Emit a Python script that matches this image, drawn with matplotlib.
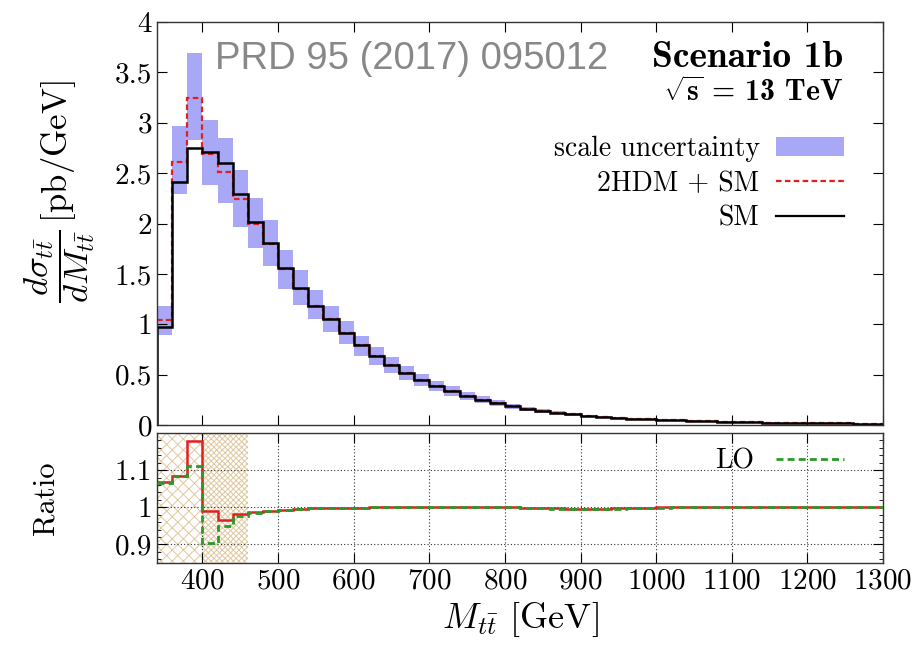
import numpy as np
import matplotlib
matplotlib.use("Agg")
import matplotlib.pyplot as plt
from matplotlib.patches import Patch
from matplotlib.lines import Line2D
from matplotlib.ticker import MultipleLocator

plt.rcParams['font.family'] = 'serif'
plt.rcParams['font.serif'] = ['cmr10']
plt.rcParams['mathtext.fontset'] = 'cm'
plt.rcParams['axes.formatter.use_mathtext'] = True
plt.rcParams['hatch.linewidth'] = 0.7

# bin edges in GeV (20 GeV bins)
edges = np.arange(340, 1320, 20)

sm = [0.97, 2.41, 2.75, 2.71, 2.60, 2.29, 2.02, 1.81, 1.56, 1.36,
      1.18, 1.05, 0.91, 0.79, 0.69, 0.60, 0.52, 0.45, 0.39, 0.34,
      0.29, 0.25, 0.215, 0.185, 0.16, 0.14, 0.12, 0.105, 0.092, 0.081,
      0.072, 0.064, 0.057, 0.051, 0.046, 0.041, 0.037, 0.033, 0.030, 0.027,
      0.025, 0.023, 0.021, 0.019, 0.017, 0.016, 0.014, 0.013]
hdm = [1.04, 2.61, 3.25, 2.69, 2.51, 2.24, 2.00, 1.80, 1.55, 1.355,
       1.18, 1.05, 0.91, 0.79, 0.69, 0.60, 0.52, 0.45, 0.39, 0.34,
       0.29, 0.25, 0.215, 0.185, 0.16, 0.14, 0.12, 0.105, 0.092, 0.081,
       0.072, 0.064, 0.057, 0.051, 0.046, 0.041, 0.037, 0.033, 0.030, 0.027,
       0.025, 0.023, 0.021, 0.019, 0.017, 0.016, 0.014, 0.013]
band_hi = [1.18, 2.97, 3.69, 3.03, 2.85, 2.53, 2.25, 2.03, 1.74, 1.54,
           1.34, 1.18, 1.03, 0.88, 0.77, 0.68, 0.59, 0.51, 0.44, 0.39,
           0.33, 0.285, 0.245, 0.21, 0.18, 0.16, 0.135, 0.118, 0.103, 0.09,
           0.08, 0.071, 0.063, 0.056, 0.05, 0.045, 0.041, 0.036, 0.033, 0.03,
           0.027, 0.025, 0.023, 0.021, 0.019, 0.017, 0.015, 0.014]
band_lo = [0.89, 2.29, 2.83, 2.38, 2.20, 1.97, 1.76, 1.58, 1.35, 1.19,
           1.05, 0.92, 0.80, 0.69, 0.60, 0.52, 0.45, 0.39, 0.34, 0.29,
           0.25, 0.215, 0.185, 0.16, 0.14, 0.12, 0.105, 0.092, 0.081, 0.071,
           0.063, 0.056, 0.05, 0.045, 0.041, 0.037, 0.033, 0.03, 0.027, 0.024,
           0.022, 0.02, 0.019, 0.017, 0.015, 0.014, 0.012, 0.011]

# ratio panel
ratio_nlo = [1.068, 1.085, 1.178, 0.989, 0.965, 0.981, 0.987, 0.991, 0.994, 0.996,
             0.997, 0.998, 0.999, 0.999, 1.0, 1.0, 1.0, 1.0, 1.0, 1.0,
             1.0, 1.0, 1.0, 1.0, 0.999, 0.998, 0.997, 0.996, 0.996, 0.996,
             0.997, 0.998, 0.999, 1.0, 1.0, 1.0, 1.0, 1.0, 1.0, 1.0,
             1.0, 1.0, 1.0, 1.0, 1.0, 1.0, 1.0, 1.0]
ratio_lo = [1.065, 1.083, 1.112, 0.905, 0.949, 0.976, 0.985, 0.990, 0.993, 0.995,
            0.997, 0.998, 0.999, 0.999, 1.0, 1.0, 1.0, 1.0, 1.0, 1.0,
            1.0, 1.0, 1.0, 1.0, 0.998, 0.997, 0.996, 0.995, 0.995, 0.995,
            0.996, 0.997, 0.998, 0.999, 1.0, 1.0, 1.0, 1.0, 1.0, 1.0,
            1.0, 1.0, 1.0, 1.0, 1.0, 1.0, 1.0, 1.0]
hatch_coarse = (340, 400)
hatch_fine = (400, 460)

band_col = '#a8a8f7'
red = '#e02020'
green = '#2a9a2a'
dash = (0, (2.5, 1.5))

fig = plt.figure(figsize=(9.22, 6.49), dpi=100)
ax = fig.add_axes([0.1703, 0.3451, 0.7874, 0.621])
axr = fig.add_axes([0.1703, 0.1325, 0.7874, 0.2003])

ax.stairs(band_hi, edges, baseline=band_lo, fill=True, color=band_col, lw=0)
ax.stairs(hdm, edges, baseline=None, color=red, lw=1.6, ls=dash)
ax.stairs(sm, edges, baseline=None, color='black', lw=1.8)
ax.plot([edges[0], edges[0]], [0, sm[0]], color='black', lw=1.8)

ax.set_xlim(340, 1300)
ax.set_ylim(0, 4)
ax.xaxis.set_major_locator(MultipleLocator(100))
ax.tick_params(direction='in', top=True, right=True, labelbottom=False,
               labelsize=21, length=7)
ax.set_yticks([0, 0.5, 1, 1.5, 2, 2.5, 3, 3.5, 4])
ax.set_yticklabels(['0', '0.5', '1', '1.5', '2', '2.5', '3', '3.5', '4'])
ax.set_ylabel(r'$\dfrac{d\sigma_{t\bar{t}}}{dM_{t\bar{t}}}\,[\mathrm{pb/GeV}]$',
              fontsize=25)
ax.yaxis.set_label_coords(-0.082, 0.58)

ax.text(0.08, 0.908, 'PRD 95 (2017) 095012', transform=ax.transAxes,
        family='Liberation Sans', fontsize=27.5, color='#888888',
        ha='left', va='center')
ax.text(0.945, 0.913, 'Scenario 1b', transform=ax.transAxes,
        family='cmb10', fontsize=27, ha='right', va='center')
ax.text(0.945, 0.826, r'$\sqrt{\mathbf{s}}$ = 13 TeV', transform=ax.transAxes,
        family='cmb10', fontsize=21.5, ha='right', va='center')

handles = [Patch(facecolor=band_col, edgecolor='none'),
           Line2D([], [], color=red, lw=1.6, ls=dash),
           Line2D([], [], color='black', lw=1.6)]
ax.legend(handles, ['scale uncertainty', '2HDM + SM', 'SM'],
          loc='upper right', bbox_to_anchor=(0.962, 0.745), frameon=False,
          markerfirst=False, fontsize=20, handlelength=2.45,
          labelspacing=0.3, handletextpad=0.6, borderaxespad=0)

# ratio panel
axr.axvspan(*hatch_coarse, facecolor='white', edgecolor='#e0c9a0',
            hatch='xxx', lw=0, zorder=0)
axr.axvspan(*hatch_fine, facecolor='white', edgecolor='#e0c9a0',
            hatch='xxxxxx', lw=0, zorder=0)
axr.grid(True, ls=(0, (1, 2)), color='black', lw=0.8, alpha=0.8)
axr.stairs(ratio_lo, edges, baseline=None, color=green, lw=2.0, ls=dash, zorder=3)
axr.stairs(ratio_nlo, edges, baseline=None, color=red, lw=1.8, zorder=2)
axr.set_xlim(340, 1300)
axr.set_ylim(0.85, 1.2)
axr.set_yticks([0.9, 1.0, 1.1])
axr.set_yticklabels(['0.9', '1', '1.1'])
axr.yaxis.set_minor_locator(MultipleLocator(0.02))
axr.xaxis.set_major_locator(MultipleLocator(100))
axr.tick_params(direction='in', top=True, right=True, labelsize=21, length=7)
axr.tick_params(which='minor', direction='in', right=True, length=3)
axr.set_ylabel('Ratio', fontsize=22)
axr.yaxis.set_label_coords(-0.135, 0.5)
axr.set_xlabel(r'$M_{t\bar{t}}$ [GeV]', fontsize=26, labelpad=4)
axr.legend([Line2D([], [], color=green, lw=2.0, ls=dash)], ['LO'],
           loc='upper right', bbox_to_anchor=(0.962, 0.97), frameon=False,
           markerfirst=False, fontsize=20, handlelength=2.45,
           handletextpad=0.8, borderaxespad=0)
for a in (ax, axr):
    for s in a.spines.values():
        s.set_linewidth(1.0)
        s.set_color('#333333')

fig.savefig('out.png', dpi=100)
